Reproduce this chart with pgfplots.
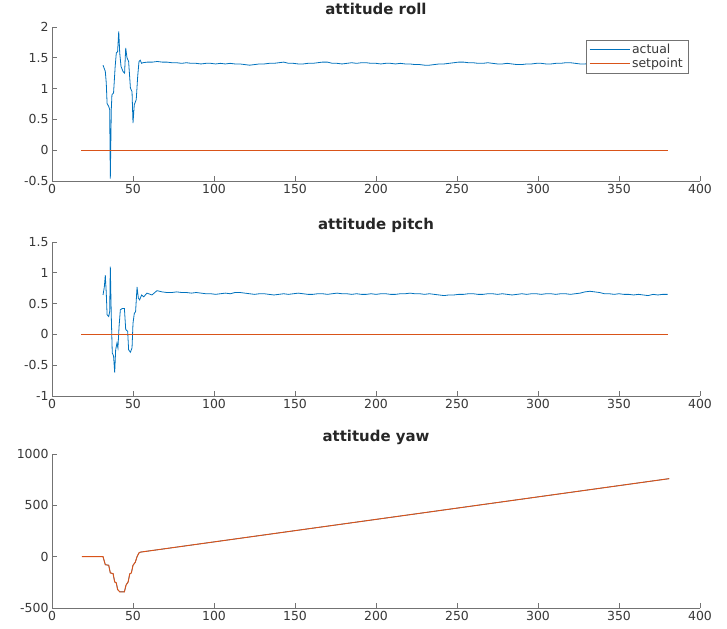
\documentclass[border=0pt]{standalone}
\usepackage{pgfplots}
\pgfplotsset{compat=1.18}
\usepackage{fontspec}
\setmainfont{DejaVu Sans}

\definecolor{mblue}{rgb}{0,0.447,0.741}
\definecolor{morange}{rgb}{0.85,0.325,0.098}
\definecolor{axgray}{rgb}{0.45,0.45,0.45}
\definecolor{lblgray}{rgb}{0.22,0.22,0.22}

\pgfplotsset{
  mlab/.style={
    scale only axis,
    width=648bp, height=154bp,
    axis lines*=left,
    axis line style={axgray, line width=0.8bp},
    every tick/.style={axgray, line width=0.8bp},
    major tick length=5bp,
    tick align=inside,
    xmin=0, xmax=400,
    xtick={0,50,100,150,200,250,300,350,400},
    tick label style={font=\fontsize{12.5}{14}\selectfont, text=lblgray},
    /pgf/number format/assume math mode=true,
    /pgf/number format/1000 sep={},
    scaled ticks=false,
    title style={font=\fontsize{15}{17}\selectfont\bfseries, text=black!85, at={(0.5,1)}, anchor=base, yshift=7bp},
    clip=false,
  },
  act/.style={mblue, line width=0.8bp},
  sp/.style={morange, line width=0.8bp},
}

\begin{document}
\begin{tikzpicture}
\path[use as bounding box] (-52bp,-21bp) rectangle (675bp,608bp);

% roll
\begin{axis}[mlab, at={(0,427bp)}, anchor=south west,
  title={attitude roll},
  ymin=-0.5, ymax=2, ytick={-0.5,0,0.5,1,1.5,2},
  legend style={at={(rel axis cs:1,1)}, anchor=north east, xshift=-12bp, yshift=-13bp,
    draw=axgray, fill=white, font=\fontsize{12.5}{14}\selectfont, text=lblgray,
    inner xsep=3bp, inner ysep=2bp, row sep=-1bp, cells={anchor=west}},
  legend image code/.code={\draw[#1] (0bp,0bp) -- (40bp,0bp);},
]
\addplot[act] coordinates {
(31.5,1.38)(32.9,1.28)(33.5,1.09)(34,0.76)(35,0.71)(35.6,0.66)(36,-0.46)(36.6,0.66)
(37,0.90)(38,0.93)(39,1.36)(39.7,1.58)(40.5,1.60)(41.2,1.93)(41.8,1.58)(42.6,1.36)
(43.8,1.28)(44.8,1.25)(45.5,1.66)(46.3,1.50)(47.3,1.44)(48.4,1.01)(49.4,0.95)(50,0.44)
(50.8,0.74)(52,0.82)(52.9,1.20)(53.7,1.44)(54.5,1.46)(55.3,1.41)
(56,1.42)(59,1.43)(62,1.43)(65,1.44)(68,1.43)(71,1.43)(74,1.42)(77,1.42)(80,1.41)
(83,1.42)(86,1.41)(89,1.41)(92,1.40)(95,1.41)(98,1.41)(101,1.40)(104,1.41)(107,1.40)
(110,1.41)(113,1.40)(116,1.40)(119,1.39)(122,1.38)(125,1.39)(128,1.40)(131,1.40)
(134,1.41)(137,1.41)(140,1.42)(143,1.43)(146,1.41)(149,1.41)(152,1.40)(155,1.40)
(158,1.41)(161,1.41)(164,1.42)(167,1.43)(170,1.43)(173,1.41)(176,1.41)(179,1.40)
(182,1.41)(185,1.42)(188,1.41)(191,1.42)(194,1.42)(197,1.41)(200,1.41)(203,1.40)
(206,1.41)(209,1.41)(212,1.40)(215,1.41)(218,1.40)(221,1.40)(224,1.39)(227,1.39)
(230,1.38)(233,1.38)(236,1.39)(239,1.40)(242,1.40)(245,1.41)(248,1.42)(251,1.43)
(254,1.43)(257,1.42)(260,1.42)(263,1.41)(266,1.41)(269,1.42)(272,1.41)(275,1.40)
(278,1.40)(281,1.41)(284,1.40)(287,1.39)(290,1.39)(293,1.40)(296,1.40)(299,1.41)
(302,1.41)(305,1.40)(308,1.40)(311,1.41)(314,1.41)(317,1.42)(320,1.42)(323,1.41)
(326,1.40)(329,1.40)(332,1.41)(335,1.42)(338,1.42)(341,1.41)(344,1.41)(347,1.40)
(350,1.40)(353,1.41)(356,1.41)(359,1.40)(362,1.41)(365,1.41)(368,1.40)(371,1.40)
(374,1.41)(377,1.40)(380,1.40)
};
\addlegendentry{actual}
\addplot[sp] coordinates {(18,0)(380,0)};
\addlegendentry{setpoint}
\end{axis}

% pitch
\begin{axis}[mlab, at={(0,212bp)}, anchor=south west,
  title={attitude pitch},
  ymin=-1, ymax=1.5, ytick={-1,-0.5,0,0.5,1,1.5},
]
\addplot[act] coordinates {
(31.5,0.64)(32.3,0.77)(32.9,0.96)(33.5,0.67)(34,0.32)(35,0.29)(35.6,0.37)(36,1.10)
(36.6,0.29)(37.2,-0.30)(38,-0.35)(38.7,-0.62)(39.3,-0.25)(40.1,-0.14)(40.7,-0.22)
(41.4,0.13)(42.2,0.40)(43.4,0.42)(44.7,0.42)(45.5,0.08)(46.7,0.05)(47.3,-0.25)
(48.4,-0.29)(49.4,-0.22)(50,0.18)(50.8,0.34)(51.6,0.37)(52.5,0.77)(53.3,0.59)
(54.1,0.56)(55.3,0.64)(56.6,0.61)(58.6,0.67)(61.7,0.64)(64.8,0.71)(68,0.69)(71,0.68)
(74,0.68)(77,0.69)(80,0.68)(83,0.68)(86,0.67)(89,0.68)(92,0.67)(95,0.66)(98,0.66)
(101,0.65)(104,0.66)(107,0.67)(110,0.66)(113,0.68)(116,0.68)(119,0.67)(122,0.66)
(125,0.65)(128,0.66)(131,0.66)(134,0.65)(137,0.64)(140,0.65)(143,0.66)(146,0.65)
(149,0.66)(152,0.67)(155,0.66)(158,0.65)(161,0.65)(164,0.66)(167,0.66)(170,0.65)
(173,0.66)(176,0.67)(179,0.66)(182,0.66)(185,0.65)(188,0.66)(191,0.65)(194,0.65)
(197,0.66)(200,0.65)(203,0.66)(206,0.66)(209,0.65)(212,0.65)(215,0.66)(218,0.66)
(221,0.67)(224,0.66)(227,0.66)(230,0.65)(233,0.66)(236,0.65)(239,0.64)(242,0.63)
(245,0.64)(248,0.64)(251,0.65)(254,0.65)(257,0.66)(260,0.66)(263,0.65)(266,0.65)
(269,0.66)(272,0.66)(275,0.65)(278,0.66)(281,0.65)(284,0.64)(287,0.65)(290,0.66)
(293,0.65)(296,0.66)(299,0.66)(302,0.65)(305,0.66)(308,0.66)(311,0.65)(314,0.66)
(317,0.66)(320,0.65)(323,0.66)(326,0.67)(329,0.69)(332,0.70)(335,0.69)(338,0.68)
(341,0.66)(344,0.66)(347,0.65)(350,0.66)(353,0.65)(356,0.65)(359,0.64)(362,0.65)
(365,0.64)(368,0.63)(371,0.65)(374,0.64)(377,0.65)(380,0.65)
};
\addplot[sp] coordinates {(18,0)(380,0)};
\end{axis}

% yaw (actual lies under the setpoint)
\begin{axis}[mlab, at={(0,0)}, anchor=south west,
  title={attitude yaw},
  ymin=-500, ymax=1000, ytick={-500,0,500,1000},
]
\addplot[act, line width=0.6bp] coordinates {
(31.5,0)(32.9,-78)(35,-84)(36,-158)(37.7,-165)(38.7,-246)(39.7,-256)(40.5,-320)
(41.8,-342)(43.2,-342)(44.7,-342)(45.7,-277)(47,-246)(48,-168)(49,-158)(50,-84)
(51.4,-55)(52.5,0)(53.7,37)(54.5,44)(381,760)
};
\addplot[sp, line width=1bp] coordinates {
(18.5,0)(31.5,0)(32.9,-78)(35,-84)(36,-158)(37.7,-165)(38.7,-246)(39.7,-256)(40.5,-320)
(41.8,-342)(43.2,-342)(44.7,-342)(45.7,-277)(47,-246)(48,-168)(49,-158)(50,-84)
(51.4,-55)(52.5,0)(53.7,37)(54.5,44)(381,760)
};
\end{axis}
\end{tikzpicture}
\end{document}
